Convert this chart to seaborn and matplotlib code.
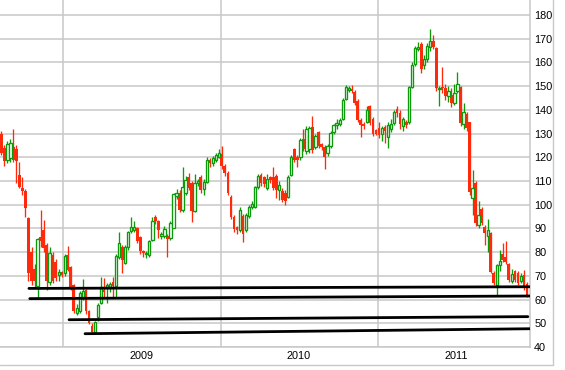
import matplotlib
matplotlib.use("Agg")
import matplotlib.pyplot as plt
import matplotlib.dates as mdates
from matplotlib.lines import Line2D
import seaborn as sns
import pandas as pd
import numpy as np

# ---------------- data (weekly candles) ----------------
start_date = "2008-08-11"

opens = [
    130, 124, 119, 119.5, 124.5, 123.5, 112.5, 107, 105.8, 94.4, 80, 73, 65.7, 86.4, 89.3, 83, 67.4, 78.8, 76, 70.4, 71.5,
    71.2, 78.8, 73.7, 66, 54.3, 55.2, 61.1, 64, 55, 48.8,
    46.3, 52.6, 58.5, 64, 64.9, 65.3, 67.4, 65.7, 77.9, 82.2,
    75.4, 82.2, 88.9, 89.3, 90.2, 86.4, 80.4, 79, 78.8, 85.1,
    94.8, 93, 86.8, 86.8, 86.8, 85.9, 90.2, 103.7, 105, 97.8,
    104.9, 111.7, 109, 97.3, 109.2, 111.7, 106.5, 109.6, 118.8, 117.6,
    119, 120.1,
    121.5, 116.5, 113.4, 103.2, 94.8, 90.5, 89.3, 95.2, 89.3, 95.2,
    99, 99, 107.5, 112.5, 111.5, 107.1, 111.5, 111.7, 112, 106.2,
    105.8, 105, 103.2, 112.5, 123.5, 120.1, 120.1, 127.7, 122.6, 123.5,
    132.8, 124.3, 130.6, 125.5, 124.3, 121.8, 124.7, 130.6, 133.5, 134,
    136, 144.6, 148.4, 148.8, 147.5, 143.7, 135.7, 134, 135, 141.6,
    136.1, 131.5,
    132.3, 129.8, 132.8, 128.5, 131.8, 134.5, 140.4, 138.7, 133.2, 134.9,
    134.9, 149.6, 159.3, 165.7, 167.8, 158.9, 161.4, 166.5, 169, 166,
    148.8, 149.5, 149.2, 145.8, 146.3, 142.9, 148, 149.6, 134, 138.2,
    134.9, 102.8, 109.1, 91.4, 98.2, 90.6, 86.8, 88, 71.2, 66.1,
    74.6, 79.2, 78, 75, 67.8, 72, 71.2, 67.8, 70.4, 66.5,
]
highs = [
    131, 125, 127, 127.5, 132, 125, 118, 111.7, 106.5, 95, 82, 75, 86, 97.8, 93.5, 84, 82, 80, 77, 73, 72,
    79, 82.6, 74, 66.5, 58, 63.5, 68.6, 64.5, 55.5, 50,
    51, 58.5, 69.5, 69.3, 67, 67.5, 69.5, 79, 88.5, 83,
    83, 89, 94.8, 93, 90.5, 87, 81, 80.5, 85, 95,
    95.5, 93.5, 88.5, 91, 87.5, 93, 105, 106.6, 106, 116,
    112, 113.5, 110, 113, 111, 112.5, 111, 120, 119.5, 120.5,
    122, 123.5,
    124.7, 117, 114, 104, 95.5, 91, 99, 96, 96.5, 100,
    101.5, 108, 113, 113.5, 112, 113, 112, 116, 113, 110,
    107, 106, 112.5, 121, 124, 121, 128, 131.9, 133, 133,
    137.4, 130, 131, 126, 125, 125.5, 131, 134, 136, 136.5,
    145, 150.4, 150, 150.4, 148.5, 144.5, 136.5, 135, 141.5, 142,
    137, 132,
    135, 133, 133.5, 135, 136, 140, 141.5, 140, 137, 135.5,
    150, 160, 167, 168.5, 168.5, 163, 168, 174, 171.6, 166.5,
    150, 158, 151, 150, 149, 151, 156, 150, 143, 139,
    135, 114.6, 110, 101.5, 99, 91.5, 94, 88.5, 72, 75,
    81, 83.8, 84.6, 75.5, 73, 72.5, 72, 71, 72.5, 67.5,
]
lows = [
    121, 116.5, 117.5, 118, 118, 109, 107, 104, 94.8, 68, 66, 65, 60.6, 82, 80, 64, 66, 67, 68, 68, 69.5,
    70, 72, 64, 54.5, 53.5, 54.5, 60, 54, 49.5, 45.5,
    45.5, 51, 58, 60.5, 58.5, 63, 60.5, 61, 77, 71.2,
    75, 81, 88, 88.5, 84, 79, 78, 77.5, 78, 84.5,
    92, 86, 85.5, 86, 78, 85, 90, 102.5, 97, 97,
    104, 106, 92.7, 97, 108, 105, 104, 109, 116, 116.5,
    118, 119.5,
    115, 112, 104, 94, 88.5, 87.5, 88.5, 84.3, 88.5, 94.5,
    98, 98.5, 106.5, 108, 107.5, 106, 109, 106, 103, 102,
    101, 100, 103, 112, 118, 116, 119, 122.5, 121.5, 122,
    122, 123.5, 124, 123, 115, 120.5, 124, 130, 132, 133,
    135.5, 144, 147.5, 147, 142, 135, 128.5, 132, 134.5, 133.5,
    129, 129.5,
    128, 127, 126, 123.9, 130.5, 133.5, 137, 132, 131, 132.5,
    134, 149, 158.5, 165, 155.5, 157, 160, 165, 165.5, 148,
    141.6, 147, 144, 143.5, 141, 142, 147, 133, 132, 131,
    104, 95.6, 91, 90, 91.5, 83, 80, 71, 66, 61.9,
    72, 76, 75, 67.5, 67, 67.5, 66, 67, 64, 61,
]
closes = [
    122, 118.5, 125.5, 126, 119, 118.5, 107.5, 105.8, 98.6, 71, 68, 68, 85.5, 84.7, 81.7, 68, 79.6, 68, 69, 71.7, 70.5,
    78.4, 72.4, 65.3, 55.2, 56.4, 62.8, 63.6, 55, 50, 46.3,
    50.5, 57.7, 65.3, 63.2, 66, 66.5, 65.7, 78.4, 83.8, 76.7,
    82.2, 88.5, 90.6, 90.6, 84.7, 80.5, 79.6, 79.5, 84.7, 93.1,
    93.1, 89.3, 87.6, 89.7, 85.5, 92.3, 104.5, 105, 97.8, 107.5,
    110.4, 107.1, 97.3, 109, 109.8, 106.2, 109.5, 119, 117.6, 119.5,
    121, 121.8,
    116.5, 113.4, 104.9, 94.8, 89.7, 89.3, 97.8, 87.6, 95.6, 99,
    100.2, 107.5, 112.1, 109.1, 108.8, 110.8, 110.5, 107, 106.2, 108.5,
    102, 101.5, 111.7, 120, 118.8, 118.8, 127.3, 123.5, 132, 132.5,
    123, 129, 124.7, 124.3, 120.1, 124.7, 130.2, 133.6, 134.6, 135.5,
    144, 149.6, 148.8, 148, 142.9, 135.7, 133.6, 133, 140, 134.5,
    129.8, 130,
    129.4, 132.5, 131, 133.6, 134, 139, 138.7, 134, 136.1, 133.6,
    149.6, 159, 166, 166.5, 157.2, 161.4, 167, 169, 166.5, 149.2,
    149.4, 149, 145.8, 148, 142.9, 147, 150.9, 134.5, 139.1, 132.3,
    105.3, 107, 92.3, 95.6, 92.3, 88.1, 89.3, 71.6, 67, 74.6,
    76.2, 76.7, 75.8, 68.2, 70.8, 68.2, 67, 70, 65.3, 61.5,
]

# support lines drawn on the chart
support_start_dates = ["2008-10-14", "2008-10-16", "2009-01-15", "2009-02-21"]
support_start_vals = [64.7, 60.4, 51.5, 45.6]
support_end_dates = ["2011-12-19", "2011-12-19", "2011-12-14", "2011-12-19"]
support_end_vals = [65.4, 61.5, 52.8, 47.7]

y_ticks = list(range(40, 190, 10))

# ---------------- styling ----------------
sns.set_style("white")
plt.rcParams["font.family"] = ["Liberation Sans", "DejaVu Sans"]

RED = "#ff2a0c"
GREEN = "#0a9a0a"
GRID = "#c8c8c8"

df = pd.DataFrame({
    "date": pd.date_range(start_date, periods=len(opens), freq="7D"),
    "open": opens, "high": highs, "low": lows, "close": closes,
})
up = (df["close"] >= df["open"]).to_numpy()
xnum = mdates.date2num(df["date"])
o = df["open"].to_numpy(float)
c = df["close"].to_numpy(float)
body_bottom = np.minimum(o, c)
body_h = np.maximum(np.abs(c - o), 0.6)

fig = plt.figure(figsize=(5.65, 3.70), dpi=100)
ax = fig.add_axes([0, 23 / 370, 530 / 565, 347 / 370])

# wicks
wick_colors = np.where(up, GREEN, RED)
ax.vlines(xnum, df["low"], df["high"], colors=wick_colors, linewidth=0.95, zorder=3)
# bodies
ax.bar(xnum[~up], body_h[~up], bottom=body_bottom[~up], width=6.4,
       color=RED, linewidth=0, zorder=4)
ax.bar(xnum[up], body_h[up], bottom=body_bottom[up], width=5.4,
       facecolor="white", edgecolor=GREEN, linewidth=0.95, zorder=4)

# support lines (seaborn)
rows = []
for i in range(len(support_start_dates)):
    rows.append({"line": i, "date": pd.Timestamp(support_start_dates[i]), "value": support_start_vals[i]})
    rows.append({"line": i, "date": pd.Timestamp(support_end_dates[i]), "value": support_end_vals[i]})
sup = pd.DataFrame(rows)
sup["x"] = mdates.date2num(sup["date"])
sns.lineplot(data=sup, x="x", y="value", units="line", estimator=None,
             color="black", linewidth=2.0, ax=ax, zorder=5, legend=False)

# axes
ax.set_xlim(mdates.date2num(pd.Timestamp("2008-08-08")), mdates.date2num(pd.Timestamp("2011-12-19")))
ax.set_ylim(40, 186.3)
ax.xaxis_date()
ax.xaxis.set_major_locator(mdates.YearLocator())
ax.xaxis.set_major_formatter(plt.NullFormatter())
ax.xaxis.set_minor_locator(mdates.MonthLocator(bymonth=7, bymonthday=1))
ax.xaxis.set_minor_formatter(mdates.DateFormatter("%Y"))
ax.set_yticks(y_ticks)
ax.yaxis.tick_right()
ax.grid(axis="y", color=GRID, linewidth=1.1, zorder=0)
ax.grid(axis="x", which="major", color=GRID, linewidth=1.1, zorder=0)
ax.tick_params(axis="both", which="both", length=0, labelsize=7.8, colors="black")
ax.tick_params(axis="y", pad=3)
ax.tick_params(axis="x", which="minor", pad=3)
ax.set_xlabel("")
ax.set_ylabel("")
for s in ["left", "top"]:
    ax.spines[s].set_visible(False)
for s in ["right", "bottom"]:
    ax.spines[s].set_color(GRID)
    ax.spines[s].set_linewidth(1.1)

# outer frame
fig.add_artist(Line2D([0, 553 / 565], [1 - 365 / 370] * 2, transform=fig.transFigure, color=GRID, lw=1.0))
fig.add_artist(Line2D([553 / 565] * 2, [1 - 365 / 370, 1], transform=fig.transFigure, color=GRID, lw=1.0))

fig.savefig("out.png", dpi=100, facecolor="white")
